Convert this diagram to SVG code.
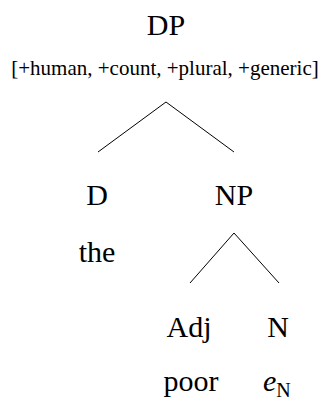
<svg xmlns="http://www.w3.org/2000/svg" width="323" height="401" viewBox="0 0 323 401">
  <style>
    text { font-family: 'Liberation Serif', 'DejaVu Serif', serif; fill: #000; }
    .lbl { font-size: 30px; text-anchor: middle; }
    .feat { font-size: 21px; text-anchor: middle; }
    .branch { stroke: #000; stroke-width: 1; fill: none; }
  </style>
  <rect width="323" height="401" fill="#fff"/>

  <!-- tree edges -->
  <g id="connectors">
    <path class="branch" d="M98 152 L166 102 L234 152"/>
    <path class="branch" d="M190 283 L234 233 L279 283"/>
  </g>

  <g id="node-DP">
    <text class="lbl" x="166" y="35">DP</text>
    <text class="feat" x="165" y="75">[+human, +count, +plural, +generic]</text>
  </g>

  <g id="node-D">
    <text class="lbl" x="97" y="205">D</text>
    <text class="lbl" x="97" y="262">the</text>
  </g>

  <g id="node-NP">
    <text class="lbl" x="234" y="205">NP</text>
  </g>

  <g id="node-Adj">
    <text class="lbl" x="189" y="337">Adj</text>
    <text class="lbl" x="191" y="391">poor</text>
  </g>

  <g id="node-N">
    <text class="lbl" x="278" y="337">N</text>
    <text x="263" y="391" font-size="30"><tspan font-style="italic">e</tspan><tspan font-size="20" dy="6">N</tspan></text>
  </g>
</svg>
